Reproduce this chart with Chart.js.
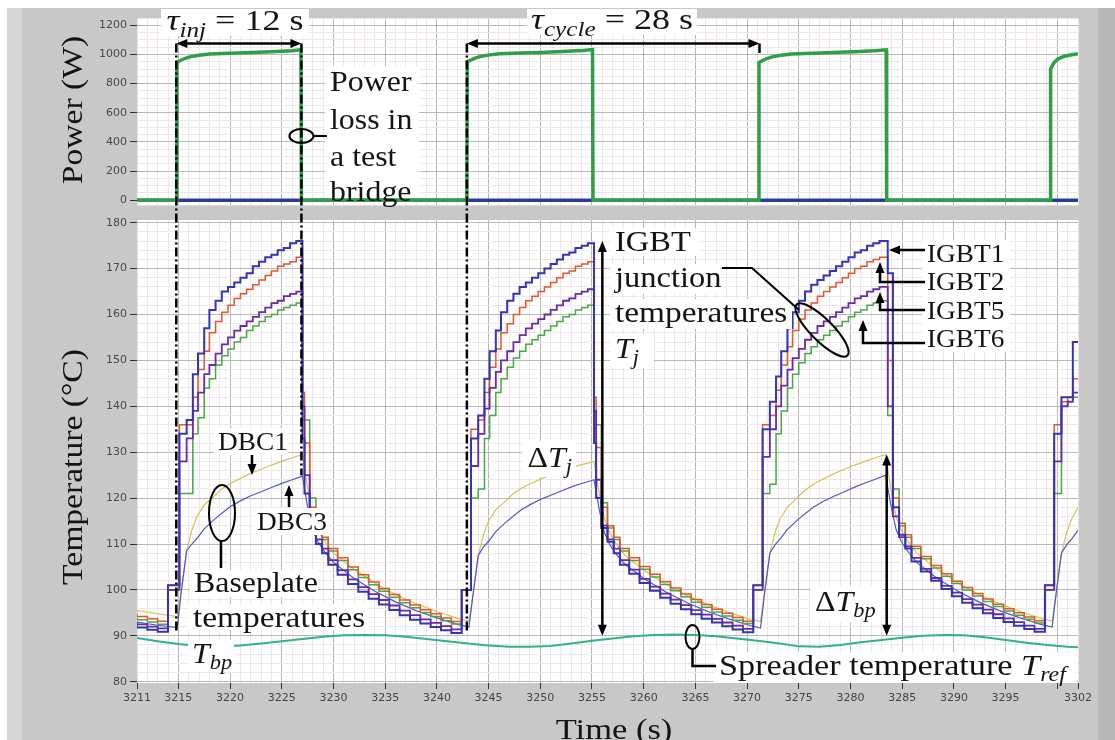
<!DOCTYPE html>
<html lang="en">
<head>
<meta charset="UTF-8">
<title>IGBT power cycling test</title>
<script src="https://cdn.jsdelivr.net/npm/chart.js"></script>
<style>
  html, body { margin: 0; padding: 0; background: #fff; }
  .frame { position: relative; width: 1115px; height: 740px; overflow: hidden; background: #fff; }
  .panel { position: absolute; left: 7px; top: 8px; width: 1108px; height: 732px; background: #c8c8c8; }
  .band-left { position: absolute; left: 7px; top: 8px; width: 15px; height: 732px; background: #d6d6d6; }
  .band-right { position: absolute; left: 1098px; top: 8px; width: 17px; height: 732px; background: #b8b8b8; }
  canvas { position: absolute; left: 0; top: 0; }
</style>
</head>
<body>
<div class="frame">
  <div class="panel"></div>
  <div class="band-left"></div>
  <div class="band-right"></div>
  <canvas id="powerChart" width="1115" height="215"></canvas>
  <canvas id="tempChart" width="1115" height="740"></canvas>
</div>

<script>
// ---- tick labels ----
const timeTickLabels = [3211, 3215, 3220, 3225, 3230, 3235, 3240, 3245, 3250, 3255, 3260, 3265, 3270, 3275, 3280, 3285, 3290, 3295, 3302];
const timeTickMarks = [3300];
const powerTickLabels = [0, 200, 400, 600, 800, 1000, 1200];
const tempTickLabels = [80, 90, 100, 110, 120, 130, 140, 150, 160, 170, 180];

// ---- power loss in the test bridge (W) ----
const powerTime = [3211, 3214.8, 3214.85, 3215.2, 3215.6, 3216.2, 3217.0, 3218.0, 3220.0, 3222.0, 3224.0, 3226.0, 3226.85, 3226.9,
  3242.9, 3242.95, 3243.3, 3243.7, 3244.3, 3245.1, 3246.1, 3248.1, 3250.1, 3252.1, 3254.1, 3255.05, 3255.1,
  3271.1, 3271.15, 3271.5, 3271.9, 3272.5, 3273.3, 3274.3, 3276.3, 3278.3, 3280.3, 3282.3, 3283.45, 3283.5,
  3299.3, 3299.35, 3299.7, 3300.1, 3300.7, 3301.4, 3302];
const powerValues = [0, 0, 945, 958, 972, 985, 995, 1003, 1008, 1013, 1019, 1026, 1032, 0,
  0, 950, 962, 975, 988, 997, 1004, 1009, 1014, 1020, 1027, 1033, 0,
  0, 945, 958, 972, 985, 995, 1003, 1008, 1013, 1019, 1026, 1032, 0,
  0, 900, 945, 970, 988, 998, 1005];
const zeroTime = [3211, 3302];
const zeroValues = [0, 0];

// ---- IGBT junction temperatures (°C), sampled ----
const tempTime = [3211, 3212, 3213, 3214,
  3215.1, 3215.8, 3216.4, 3216.9, 3217.5, 3218.0, 3218.6, 3219.2, 3219.8, 3220.4, 3221.0, 3221.6, 3222.2, 3222.8, 3223.4, 3224.0, 3224.6, 3225.2, 3225.8, 3226.4, 3227.0,
  3227.2, 3227.7, 3228.3, 3228.9, 3229.5, 3230.4, 3231.4, 3232.4, 3233.4, 3234.4, 3235.4, 3236.4, 3237.4, 3238.4, 3239.4, 3240.4, 3241.4, 3242.4,
  3243.3, 3244.0, 3244.6, 3245.1, 3245.7, 3246.2, 3246.8, 3247.4, 3248.0, 3248.6, 3249.2, 3249.8, 3250.4, 3251.0, 3251.6, 3252.2, 3252.8, 3253.4, 3254.0, 3254.6, 3255.2,
  3255.4, 3255.9, 3256.5, 3257.1, 3257.7, 3258.6, 3259.6, 3260.6, 3261.6, 3262.6, 3263.6, 3264.6, 3265.6, 3266.6, 3267.6, 3268.6, 3269.6, 3270.6,
  3271.5, 3272.2, 3272.8, 3273.3, 3273.9, 3274.4, 3275.0, 3275.6, 3276.2, 3276.8, 3277.4, 3278.0, 3278.6, 3279.2, 3279.8, 3280.4, 3281.0, 3281.6, 3282.2, 3282.8, 3283.4,
  3283.6, 3284.1, 3284.7, 3285.3, 3285.9, 3286.8, 3287.8, 3288.8, 3289.8, 3290.8, 3291.8, 3292.8, 3293.8, 3294.8, 3295.8, 3296.8, 3297.8, 3298.8,
  3299.7, 3300.4, 3301.0, 3301.5, 3302.0];
const igbt1 = [92.3, 91.8, 91.3, 90.9,
  101, 134, 137, 147, 151.5, 157, 161, 163, 165, 166, 167, 168, 169, 170.5, 171.5, 172.5, 173, 174, 174.5, 175.5, 176,
  133, 121, 113, 110, 108, 105.5, 103.3, 101.3, 99.6, 98.1, 96.8, 95.6, 94.5, 93.5, 92.7, 91.9, 91.2, 90.6,
  100, 133, 138, 146, 152, 156.5, 160.5, 163, 164.5, 166, 167, 168, 169, 170, 171, 172, 173, 173.5, 174.5, 175, 175.5,
  132, 120, 113.5, 110.5, 108, 105.5, 103.5, 101.5, 99.8, 98.3, 97, 95.8, 94.7, 93.7, 92.9, 92.1, 91.4, 90.8,
  101, 135, 141, 146.5, 152, 157, 160.5, 163, 165, 166.5, 167.5, 168.5, 169.5, 170.5, 171.5, 172.5, 173.5, 174, 175, 175.5, 176,
  176, 169, 118, 112, 109, 106.2, 104, 102, 100.2, 98.6, 97.2, 96, 94.9, 93.9, 93, 92.2, 91.5, 90.9,
  101, 134, 142, 142, 154];
const igbt2 = [94.8, 94.2, 93.7, 93.2,
  101, 136, 136, 142, 148, 152, 156, 158.5, 160.5, 162, 163.5, 164.5, 165.5, 166.5, 167.5, 168.5, 169.5, 170.5, 171, 171.5, 172.5,
  143, 132, 118, 114, 111.5, 109, 107, 105, 103.3, 101.7, 100.3, 99, 97.8, 96.7, 95.7, 94.8, 93.9, 93.1,
  100, 135, 137, 143, 148.5, 152.5, 156, 158, 160, 161.5, 163, 164, 165, 166, 167, 168, 169, 169.5, 170.5, 171, 171.5,
  142, 131, 118, 114, 111.5, 109, 107, 105.1, 103.4, 101.8, 100.4, 99.1, 97.9, 96.8, 95.8, 94.9, 94, 93.2,
  101, 136, 138, 143.5, 149, 153, 156.5, 159, 161, 162.5, 164, 165, 166, 167, 168, 169, 170, 170.5, 171.5, 172, 172.5,
  172.5, 150, 120, 114.5, 112, 109.5, 107.3, 105.3, 103.5, 101.9, 100.5, 99.2, 98, 96.9, 95.9, 95, 94.1, 93.3,
  101, 136, 141, 142, 146];
const igbt5 = [93, 92.5, 92, 91.6,
  100, 128, 133, 139, 143, 147, 149, 151.5, 153.5, 155, 156.5, 157.5, 158.5, 159.5, 160.5, 161.5, 162.5, 163, 164, 164.5, 165,
  140, 125, 114, 111, 109, 106.5, 104.3, 102.3, 100.6, 99.1, 97.8, 96.6, 95.5, 94.5, 93.6, 92.8, 92.1, 91.4,
  100, 127, 134, 139.5, 144, 147.5, 150, 152, 154, 155.5, 157, 158, 159, 160, 161, 162, 163, 163.5, 164.5, 165, 165.5,
  139, 124, 114, 111, 109, 106.5, 104.4, 102.4, 100.7, 99.2, 97.9, 96.7, 95.6, 94.6, 93.7, 92.9, 92.2, 91.5,
  100, 129, 135, 140, 144.5, 148, 150.5, 152.5, 154.5, 156, 157.5, 158.5, 159.5, 160.5, 161.5, 162.5, 163.5, 164, 165, 165.5, 166,
  166, 140, 116, 111.5, 109.5, 107, 104.6, 102.6, 100.9, 99.4, 98, 96.8, 95.7, 94.7, 93.8, 93, 92.2, 91.5,
  100, 128, 140, 141, 143];
const igbt6 = [94, 93.5, 93, 92.5,
  100, 121, 121, 134, 137.5, 144, 146, 149, 151, 152.5, 154, 155, 156.5, 157.5, 158.5, 159.5, 160, 161, 161.5, 162, 162.5,
  137, 137, 120, 113.5, 111, 108.5, 106.4, 104.4, 102.7, 101.1, 99.7, 98.4, 97.2, 96.1, 95.1, 94.2, 93.3, 92.6,
  100, 120, 122, 133, 138, 143, 146, 148.5, 150.5, 152, 153.5, 154.5, 155.5, 156.5, 157.5, 158.5, 159.5, 160, 161, 161.5, 162,
  136, 136, 119, 113.5, 111, 108.5, 106.4, 104.5, 102.8, 101.2, 99.8, 98.5, 97.3, 96.2, 95.2, 94.3, 93.4, 92.7,
  100, 121, 123, 134, 139, 144, 147, 149.5, 151.5, 153, 154.5, 155.5, 156.5, 157.5, 158.5, 159.5, 160.5, 161, 162, 162.5, 163,
  163, 138, 122, 114, 111.5, 109, 106.8, 104.8, 103, 101.4, 100, 98.7, 97.5, 96.4, 95.4, 94.5, 93.6, 92.8,
  100, 121, 140, 141, 142];

// ---- baseplate (DBC) temperatures (°C) ----
const dbcTime = [3211, 3213, 3214.9,
  3215.3, 3215.8, 3216.3, 3216.8, 3217.5, 3218.4, 3219.2, 3220.0, 3221.0, 3222.0, 3223.0, 3224.0, 3225.0, 3226.0, 3227.0,
  3227.5, 3228.0, 3228.5, 3229.0, 3230.0, 3232.0, 3234.0, 3236.0, 3238.0, 3240.0, 3242.0, 3243.1,
  3243.5, 3244.0, 3244.5, 3245.0, 3245.7, 3246.6, 3247.4, 3248.2, 3249.2, 3250.2, 3251.2, 3252.2, 3253.2, 3254.2, 3255.2,
  3255.7, 3256.2, 3256.7, 3257.2, 3258.2, 3260.2, 3262.2, 3264.2, 3266.2, 3268.2, 3270.2, 3271.3,
  3271.7, 3272.2, 3272.7, 3273.2, 3273.9, 3274.8, 3275.6, 3276.4, 3277.4, 3278.4, 3279.4, 3280.4, 3281.4, 3282.4, 3283.4,
  3283.9, 3284.4, 3284.9, 3285.4, 3286.4, 3288.4, 3290.4, 3292.4, 3294.4, 3296.4, 3298.4, 3299.5,
  3299.9, 3300.4, 3300.9, 3301.4, 3302.0];
const dbc1 = [95.5, 94.8, 94.2,
  100, 108.5, 113, 116, 118.5, 120.3, 122, 123.2, 124.3, 125.4, 126.3, 127.2, 128, 128.8, 129.5,
  122, 116, 113, 111, 108, 104.5, 101.5, 99, 97, 95.3, 93.8, 93.2,
  99, 107.5, 112, 115, 117.5, 119.3, 121, 122.2, 123.3, 124.3, 125.2, 126, 126.8, 127.4, 128,
  121, 115.5, 112.5, 110.5, 107.5, 104, 101.2, 98.8, 96.8, 95.1, 93.7, 93.1,
  99.5, 108, 112.5, 115.5, 118, 120, 121.7, 123, 124.2, 125.3, 126.3, 127.2, 128, 128.8, 129.5,
  122, 116, 113, 111, 108, 104.5, 101.5, 99, 97, 95.3, 93.8, 93.2,
  99.5, 108, 112.5, 115.5, 118];
const dbc3 = [93, 92.3, 91.8,
  100, 108.5, 110, 111.2, 113.3, 115.2, 116.7, 118.1, 119.4, 120.5, 121.4, 122.3, 123.2, 124, 124.8,
  118, 113, 110.5, 108.7, 106, 102.5, 99.7, 97.4, 95.5, 93.9, 92.5, 91.9,
  99, 107.5, 109.3, 110.6, 112.7, 114.6, 116.1, 117.5, 118.8, 119.9, 120.8, 121.7, 122.6, 123.3, 124,
  117.5, 112.5, 110, 108.2, 105.5, 102.2, 99.5, 97.2, 95.3, 93.7, 92.3, 91.7,
  99.5, 108, 109.8, 111.1, 113.2, 115.1, 116.6, 118, 119.3, 120.4, 121.4, 122.4, 123.3, 124.1, 125,
  118.5, 113.2, 110.6, 108.8, 106, 102.5, 99.7, 97.4, 95.5, 93.9, 92.5, 91.9,
  99.5, 108, 109.8, 111.1, 113];

// ---- heat spreader reference temperature (°C) ----
const spreaderTime = [3211, 3213, 3215, 3217, 3219, 3221, 3223, 3225, 3227, 3229, 3231, 3233, 3235, 3237, 3239, 3241,
  3243, 3245, 3247, 3249, 3251, 3253, 3255, 3257, 3259, 3261, 3263, 3265, 3267, 3269, 3271, 3273, 3275, 3277, 3279,
  3281, 3283, 3285, 3287, 3289, 3291, 3293, 3295, 3297, 3299, 3301, 3302];
const spreaderValues = [89.5, 88.8, 88.2, 87.8, 87.6, 87.9, 88.3, 88.8, 89.3, 89.8, 90.1, 90.2, 90.1, 89.8, 89.3, 88.8,
  88.3, 87.9, 87.6, 87.6, 87.8, 88.3, 88.9, 89.4, 89.9, 90.2, 90.3, 90.2, 89.9, 89.4, 88.9, 88.4, 87.7, 87.6, 88.0,
  88.6, 89.1, 89.6, 90.0, 90.2, 90.1, 89.7, 89.1, 88.5, 88.0, 87.6, 87.5];

// ---- helpers ----
const toXY = (ts, vs) => ts.map((t, i) => ({ x: t, y: vs[i] }));
const SERIF = '"Liberation Serif", "Times New Roman", serif';
const TICK_FONT = { family: '"DejaVu Sans", sans-serif', size: 11 };
const MAJOR = '#b8b8b8';
const MINOR = '#eee6ea';

function gridSteps(from, to, step) {
  const out = [];
  for (let v = from; v <= to + 1e-9; v += step) out.push(Math.round(v * 100) / 100);
  return out;
}

const plotBg = {
  id: 'plotBg',
  beforeDraw(chart) {
    const a = chart.chartArea, c = chart.ctx;
    c.save();
    c.fillStyle = '#ffffff';
    c.fillRect(a.left, a.top, a.right - a.left, a.bottom - a.top);
    c.restore();
  }
};

function xAxis(showLabels, height) {
  return {
    type: 'linear', min: 3211, max: 3302,
    afterBuildTicks: s => { s.ticks = gridSteps(3211, 3302, 1).map(v => ({ value: v })); },
    afterFit: s => { s.height = height; },
    ticks: {
      display: showLabels, autoSkip: false, maxRotation: 0, padding: 3,
      font: TICK_FONT, color: '#454545',
      callback: v => timeTickLabels.includes(v) ? String(v) : ''
    },
    grid: {
      color: c => (c.tick && c.tick.value % 5 === 0) ? MAJOR : MINOR,
      lineWidth: 1,
      drawTicks: showLabels,
      tickLength: 6,
      tickColor: c => (c.tick && (timeTickLabels.includes(c.tick.value) || timeTickMarks.includes(c.tick.value))) ? '#333' : 'rgba(0,0,0,0)'
    },
    border: { display: false }
  };
}

function yAxis(min, max, step, major, labels) {
  return {
    type: 'linear', min: min, max: max,
    afterBuildTicks: s => { s.ticks = gridSteps(labels[0], labels[labels.length - 1] + step * 2, step).filter(v => v <= max).map(v => ({ value: v })); },
    afterFit: s => { s.width = 137; },
    ticks: {
      autoSkip: false, padding: 3, font: TICK_FONT, color: '#4a4a4a',
      callback: v => labels.includes(v) ? String(v) : ''
    },
    grid: {
      color: c => (c.tick && c.tick.value % major === 0) ? MAJOR : MINOR,
      lineWidth: 1,
      tickLength: 7,
      tickColor: c => (c.tick && labels.includes(c.tick.value)) ? '#333' : 'rgba(0,0,0,0)'
    },
    border: { display: false }
  };
}

const baseOptions = {
  responsive: false,
  animation: false,
  events: [],
  plugins: { legend: { display: false }, tooltip: { enabled: false } },
  elements: { point: { radius: 0 }, line: { tension: 0 } }
};

// ---- top chart: power ----
const powerChart = new Chart(document.getElementById('powerChart'), {
  type: 'line',
  data: {
    datasets: [
      { label: 'Power', data: toXY(powerTime, powerValues), borderColor: '#2f9e49', borderWidth: 3.5, order: 0 },
      { label: 'Zero', data: toXY(zeroTime, zeroValues), borderColor: '#2a3c98', borderWidth: 3.5, order: 1 }
    ]
  },
  options: Object.assign({}, baseOptions, {
    layout: { padding: { top: 18, right: 37, bottom: 0, left: 0 } },
    scales: {
      x: xAxis(false, 7),
      y: yAxis(-36, 1250, 50, 200, powerTickLabels)
    }
  }),
  plugins: [plotBg]
});

// ---- drawing helpers for annotations ----
function fontOf(size, it) { return (it ? 'italic ' : '') + size + 'px ' + SERIF; }

function richWidth(ctx, parts, size) {
  let w = 0;
  for (const p of parts) { ctx.font = fontOf(p.sub ? size * 0.7 : size, p.it); w += ctx.measureText(p.t).width; }
  return w;
}

function drawRich(ctx, parts, x, y, size, align, sx) {
  sx = sx || 1.12;
  const w = richWidth(ctx, parts, size) * sx;
  let cx = align === 'center' ? x - w / 2 : (align === 'right' ? x - w : x);
  ctx.save();
  ctx.fillStyle = '#141414';
  ctx.textAlign = 'left';
  ctx.textBaseline = 'alphabetic';
  for (const p of parts) {
    const s = p.sub ? size * 0.7 : size;
    ctx.font = fontOf(s, p.it);
    const dy = p.sub ? size * 0.22 : 0;
    ctx.save();
    ctx.translate(cx, y + dy);
    ctx.scale(sx, 1);
    ctx.fillText(p.t, 0, 0);
    ctx.restore();
    cx += ctx.measureText(p.t).width * sx;
  }
  ctx.restore();
}

function txt(ctx, s, x, y, size, align, sx) { drawRich(ctx, [{ t: s }], x, y, size, align, sx); }

function whiteBox(ctx, x, y, w, h) {
  ctx.save(); ctx.fillStyle = '#ffffff'; ctx.fillRect(x, y, w, h); ctx.restore();
}

function head(ctx, x, y, ang) {
  const L = 11, W = 4.5;
  ctx.save();
  ctx.translate(x, y); ctx.rotate(ang);
  ctx.fillStyle = '#000';
  ctx.beginPath(); ctx.moveTo(0, 0); ctx.lineTo(-L, -W); ctx.lineTo(-L, W); ctx.closePath(); ctx.fill();
  ctx.restore();
}

function path(ctx, pts, w, dash) {
  ctx.save();
  ctx.strokeStyle = '#000'; ctx.lineWidth = w || 2;
  if (dash) ctx.setLineDash(dash);
  ctx.beginPath();
  pts.forEach((p, i) => i ? ctx.lineTo(p[0], p[1]) : ctx.moveTo(p[0], p[1]));
  ctx.stroke();
  ctx.restore();
}

function ellipse(ctx, cx, cy, rx, ry, rot) {
  ctx.save(); ctx.strokeStyle = '#000'; ctx.lineWidth = 2;
  ctx.beginPath(); ctx.ellipse(cx, cy, rx, ry, rot || 0, 0, Math.PI * 2); ctx.stroke();
  ctx.restore();
}

const UP = -Math.PI / 2, DOWN = Math.PI / 2, LEFT = Math.PI, RIGHT = 0;

const annotations = {
  id: 'annotations',
  afterDraw(chart) {
    const ctx = chart.ctx;
    const X = v => chart.scales.x.getPixelForValue(v);
    const YT = v => chart.scales.y.getPixelForValue(v);
    const YP = v => powerChart.scales.y.getPixelForValue(v);

    // axis titles
    ctx.save(); ctx.translate(72, 110); ctx.rotate(-Math.PI / 2);
    txt(ctx, 'Power (W)', 0, 10, 30, 'center', 1.12); ctx.restore();
    ctx.save(); ctx.translate(72, 467); ctx.rotate(-Math.PI / 2);
    txt(ctx, 'Temperature (°C)', 0, 10, 30, 'center', 1.12); ctx.restore();
    txt(ctx, 'Time (s)', 614, 739, 30, 'center', 1.15);

    // injection / cycle markers
    const yArr = YP(1075);
    path(ctx, [[X(3214.8), yArr], [X(3214.8), YT(90.5)]], 2.5, [9, 3, 2, 3]);
    path(ctx, [[X(3226.9), yArr], [X(3226.9), YT(125)]], 2.5, [9, 3, 2, 3]);
    path(ctx, [[X(3242.9), yArr], [X(3242.9), YT(91)]], 2.5, [9, 3, 2, 3]);
    path(ctx, [[X(3271.2), yArr], [X(3271.2), YP(1010)]], 2.5);

    path(ctx, [[X(3214.8) + 4, yArr], [X(3226.9) - 4, yArr]], 2.5);
    head(ctx, X(3214.8), yArr, LEFT); head(ctx, X(3226.9), yArr, RIGHT);
    path(ctx, [[X(3242.9) + 4, yArr], [X(3271.2) - 4, yArr]], 2.5);
    head(ctx, X(3242.9), yArr, LEFT); head(ctx, X(3271.2), yArr, RIGHT);

    whiteBox(ctx, 161, 9, 148, 27);
    drawRich(ctx, [{ t: 'τ', it: true }, { t: 'inj', it: true, sub: true }, { t: ' = 12 s' }], 235, 30, 30, 'center', 1.2);
    whiteBox(ctx, 527, 9, 170, 26);
    drawRich(ctx, [{ t: 'τ', it: true }, { t: 'cycle', it: true, sub: true }, { t: ' = 28 s' }], 612, 29, 30, 'center', 1.2);

    // power loss label
    whiteBox(ctx, 325, 66, 94, 132);
    ['Power', 'loss in', 'a test', 'bridge'].forEach((s, i) => txt(ctx, s, 330, [91, 128.5, 166, 201][i], 29, 'left', 1.1));
    ellipse(ctx, X(3226.9), YP(440), 12, 7);
    path(ctx, [[X(3226.9) + 12, YP(440)], [327, YP(440)]], 2);

    // IGBT junction temperatures
    whiteBox(ctx, 610, 228, 88, 28);
    whiteBox(ctx, 610, 264, 110, 30);
    whiteBox(ctx, 610, 299, 182, 30);
    whiteBox(ctx, 610, 334, 44, 34);
    txt(ctx, 'IGBT', 615, 251, 29, 'left', 1.12);
    txt(ctx, 'junction', 615, 287, 29, 'left', 1.12);
    txt(ctx, 'temperatures', 615, 322, 29, 'left', 1.15);
    drawRich(ctx, [{ t: 'T', it: true }, { t: 'j', it: true, sub: true }], 615, 358, 29, 'left', 1.1);
    path(ctx, [[722, 268], [752, 268], [799, 310]], 2);
    ellipse(ctx, 822, 330, 36, 11, Math.PI / 4);

    // ΔTj
    const xj = X(3256.0);
    path(ctx, [[xj, YT(176) + 6], [xj, YT(90) - 6]], 2.5);
    head(ctx, xj, YT(176), UP); head(ctx, xj, YT(90), DOWN);
    whiteBox(ctx, 522, 441, 54, 36);
    drawRich(ctx, [{ t: 'Δ' }, { t: 'T', it: true }, { t: 'j', it: true, sub: true }], 572, 467, 29, 'right', 1.1);

    // ΔTbp
    const xb = X(3283.5);
    path(ctx, [[xb, YT(129.5) + 6], [xb, YT(90) - 6]], 2.5);
    head(ctx, xb, YT(129.5), UP); head(ctx, xb, YT(90), DOWN);
    whiteBox(ctx, 810, 586, 72, 36);
    drawRich(ctx, [{ t: 'Δ' }, { t: 'T', it: true }, { t: 'bp', it: true, sub: true }], 815, 611, 29, 'left', 1.1);

    // IGBT labels
    whiteBox(ctx, 922, 240, 88, 112);
    ['IGBT1', 'IGBT2', 'IGBT5', 'IGBT6'].forEach((s, i) => txt(ctx, s, 927, [262, 290, 319, 347][i], 26, 'left', 1.05));
    path(ctx, [[925, 250], [896, 250]], 2.5); head(ctx, 889, 250, LEFT);
    path(ctx, [[925, 282], [880, 282], [880, 269]], 2.5); head(ctx, 880, 262, UP);
    path(ctx, [[925, 310], [880, 310], [880, 299]], 2.5); head(ctx, 880, 292, UP);
    path(ctx, [[925, 343], [863, 343], [863, 327]], 2.5); head(ctx, 863, 320, UP);

    // DBC labels
    whiteBox(ctx, 214, 428, 74, 27);
    txt(ctx, 'DBC1', 218, 450, 26, 'left', 1.05);
    path(ctx, [[252, 455], [252, 468]], 2.5); head(ctx, 252, 475, DOWN);
    whiteBox(ctx, 253, 508, 74, 27);
    txt(ctx, 'DBC3', 257, 530, 26, 'left', 1.05);
    path(ctx, [[289, 507], [289, 492]], 2.5); head(ctx, 289, 485, UP);

    // baseplate temperatures
    whiteBox(ctx, 190, 570, 128, 27);
    whiteBox(ctx, 188, 604, 180, 26);
    whiteBox(ctx, 188, 640, 46, 32);
    txt(ctx, 'Baseplate', 194, 592, 29, 'left', 1.1);
    txt(ctx, 'temperatures', 193, 627, 29, 'left', 1.15);
    drawRich(ctx, [{ t: 'T', it: true }, { t: 'bp', it: true, sub: true }], 192, 663, 29, 'left', 1.1);
    ellipse(ctx, 222, 513, 13, 28);
    path(ctx, [[221, 541], [221, 568]], 2.5);

    // spreader temperature
    whiteBox(ctx, 714, 652, 362, 31);
    drawRich(ctx, [{ t: 'Spreader temperature ' }, { t: 'T', it: true }, { t: 'ref', it: true, sub: true }], 719, 675, 29, 'left', 1.18);
    ellipse(ctx, 692.5, 637, 7, 12);
    path(ctx, [[692.5, 649], [692.5, 666], [716, 666]], 2.5);
  }
};

// ---- bottom chart: temperatures ----
new Chart(document.getElementById('tempChart'), {
  type: 'line',
  data: {
    datasets: [
      { label: 'IGBT1', data: toXY(tempTime, igbt1), borderColor: '#3535b4', borderWidth: 2, stepped: 'after', order: 1 },
      { label: 'IGBT5', data: toXY(tempTime, igbt5), borderColor: '#6a2aa6', borderWidth: 1.8, stepped: 'after', order: 2 },
      { label: 'IGBT2', data: toXY(tempTime, igbt2), borderColor: '#e2562c', borderWidth: 1.5, stepped: 'after', order: 3 },
      { label: 'IGBT6', data: toXY(tempTime, igbt6), borderColor: '#46a846', borderWidth: 1.5, stepped: 'after', order: 4 },
      { label: 'DBC3', data: toXY(dbcTime, dbc3), borderColor: '#4b57cf', borderWidth: 1.2, order: 5 },
      { label: 'DBC1', data: toXY(dbcTime, dbc1), borderColor: '#d2c44e', borderWidth: 1.2, order: 6 },
      { label: 'Spreader', data: toXY(spreaderTime, spreaderValues), borderColor: '#2fb28f', borderWidth: 2, order: 7 }
    ]
  },
  options: Object.assign({}, baseOptions, {
    layout: { padding: { top: 220, right: 37, bottom: 0, left: 0 } },
    scales: {
      x: xAxis(true, 57),
      y: yAxis(79.72, 180.59, 2, 10, tempTickLabels)
    }
  }),
  plugins: [plotBg, annotations]
});
</script>
</body>
</html>
